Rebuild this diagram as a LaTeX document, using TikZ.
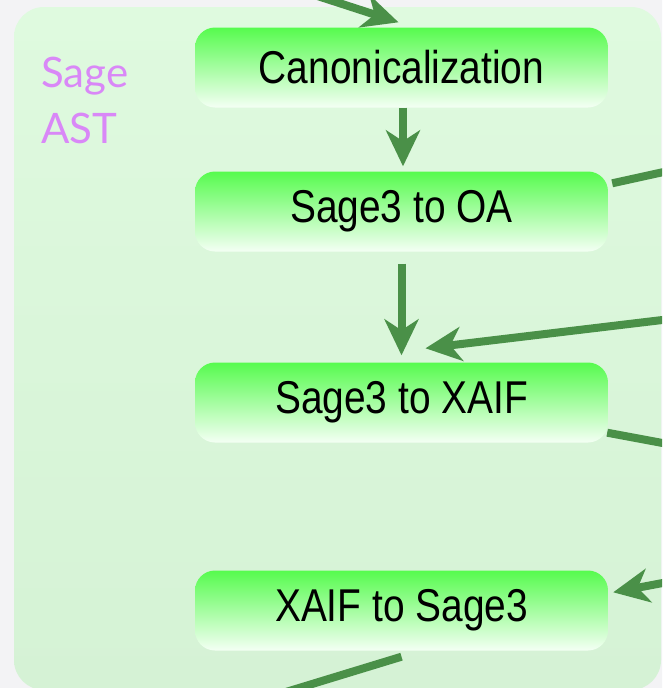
\documentclass[tikz,border=0pt]{standalone}
\usepackage{fontspec}
\setmainfont{Liberation Sans}
\newfontfamily\labelfont{Lato}
\usetikzlibrary{arrows.meta}
\definecolor{bgout}{RGB}{243,243,245}
\definecolor{paneltop}{RGB}{223,250,223}
\definecolor{panelbot}{RGB}{213,242,213}
\definecolor{boxtop}{RGB}{86,251,78}
\definecolor{boxbot}{RGB}{244,255,244}
\definecolor{arrowgreen}{RGB}{74,144,72}
\definecolor{sagepurple}{RGB}{217,136,247}
\tikzset{
  stagebox/.style={minimum width=413pt, minimum height=80pt, rounded corners=20pt,
    top color=boxtop, bottom color=boxbot, inner sep=0pt,
    font=\fontsize{46}{50}\selectfont},
  flow/.style={draw=arrowgreen, line width=8pt,
    -{Stealth[length=36pt,width=34pt,inset=11pt]}},
  flowout/.style={draw=arrowgreen, line width=8pt},
  sagelabel/.style={text=sagepurple, font=\labelfont\fontsize{42}{50}\selectfont, inner sep=0pt}
}
\newcommand{\narrowtext}[1]{\scalebox{0.845}[1]{#1}}
\begin{document}
\begin{tikzpicture}[x=1pt,y=-1pt]
\useasboundingbox (0,0) rectangle (662,688);
\clip (0,0) rectangle (662,688);
\fill[bgout] (-5,-5) rectangle (670,700);
\shade[top color=paneltop, bottom color=panelbot, rounded corners=30pt] (14,7) rectangle (661,690);

\node[sagelabel, anchor=base west] (sage) at (41,87) {Sage};
\node[sagelabel, anchor=base west] (ast) at (41,143) {AST};

\node[stagebox] (canon) at (401.5,67.5) {\narrowtext{Canonicalization}};
\node[stagebox] (oa) at (401.5,211.5) {\narrowtext{Sage3 to OA}};
\node[stagebox] (xaif) at (401.5,402.5) {\narrowtext{Sage3 to XAIF}};
\node[stagebox] (back) at (401.5,610.5) {\narrowtext{XAIF to Sage3}};

\coordinate (intop) at (262,-22);
\coordinate (inxaif) at (700,315.5);
\coordinate (outoa) at (700,164);
\coordinate (outxaif) at (700,450);
\coordinate (inback) at (700,576);
\coordinate (outback) at (240,706);

\draw[flow] (intop) -- ([xshift=-3pt,yshift=5pt]canon.north);
\draw[flow] ([xshift=1.5pt]canon.south) -- ([xshift=1.5pt,yshift=5pt]oa.north);
\draw[flow] ([yshift=-12pt]oa.south) -- ([yshift=7pt]xaif.north);
\draw[flow] (inxaif) -- ([xshift=24pt,yshift=14pt]xaif.north);
\draw[flowout] ([xshift=4pt,yshift=-12pt]oa.north east) -- (outoa);
\draw[flowout] ([xshift=-1pt,yshift=10pt]xaif.south east) -- (outxaif);
\draw[flow] (inback) -- ([xshift=5pt,yshift=-22pt]back.north east);
\draw[flowout] ([yshift=-6pt]back.south) -- (outback);
\end{tikzpicture}
\end{document}
